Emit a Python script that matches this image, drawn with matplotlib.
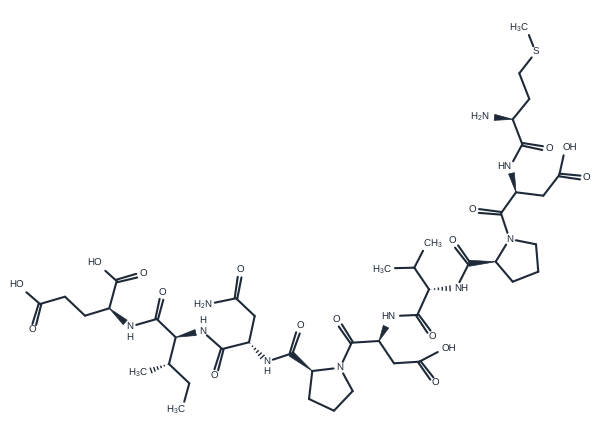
"""Peptide skeletal formula drawn as line art (coordinates in image pixels)."""

import matplotlib
matplotlib.use('Agg')
import matplotlib.pyplot as plt
import numpy as np

plt.rcParams['font.family'] = ['Liberation Sans', 'DejaVu Sans']
plt.rcParams['mathtext.fontset'] = 'custom'
plt.rcParams['mathtext.rm'] = 'Liberation Sans'
plt.rcParams['mathtext.default'] = 'rm'
plt.rcParams['text.hinting'] = 'no_hinting'

INK = '#1f2a38'
GAP = 6.5      # bond stops this far short of a labelled atom
DB_OFF = 1.9   # half spacing of double bonds
BOND_LW = 1.5

# atom positions
atom_names = [
    # Glu
    'e_c1', 'e_oh1', 'e_o1', 'e_ca', 'e_n', 'e_cb', 'e_cg', 'e_cd', 'e_oh2', 'e_o2',
    # Ile
    'i_c', 'i_o', 'i_ca', 'i_n', 'i_cb', 'i_me', 'i_cg', 'i_cd',
    # Asn
    'n_c', 'n_o', 'n_ca', 'n_cb', 'n_cg', 'n_od', 'n_nd', 'n_n',
    # Pro
    'p_c', 'p_o', 'p_ca', 'p_cb', 'p_cg', 'p_cd', 'p_n',
    # Asp ('d_nw' is the tip of the wedge, which points at the H of HN)
    'd_c', 'd_o', 'd_ca', 'd_n', 'd_nw', 'd_cb', 'd_cg', 'd_oh', 'd_od',
    # Val
    'v_c', 'v_o', 'v_ca', 'v_n', 'v_cb', 'v_me1', 'v_me2',
    # Pro 2
    'q_c', 'q_o', 'q_ca', 'q_cb', 'q_cg', 'q_cd', 'q_n',
    # Asp 2
    'a_c', 'a_o', 'a_ca', 'a_n', 'a_cb', 'a_cg', 'a_oh', 'a_od',
    # Met
    'm_c', 'm_o', 'm_ca', 'm_n', 'm_cb', 'm_cg', 'm_s', 'm_me',
]
atom_x = [
    116.7, 100.5, 143, 109.3, 130, 85, 65, 40, 21.5, 32.5,
    156.7, 163, 175.7, 202, 169, 145, 189.3, 182.5,
    222.3, 214.5, 249, 254.7, 236, 240.7, 208.5, 266.7,
    291, 300, 312.3, 309, 334, 352.7, 340,
    351.7, 336.7, 379, 393.5, 386, 394, 419.3, 443.5, 435.7,
    417.3, 432.7, 429, 456.5, 414.3, 388.5, 426,
    469, 452.7, 495.7, 512.7, 538.3, 536, 509.5,
    501, 472.5, 516, 510, 543.3, 559.3, 565, 586.7,
    522.3, 549, 512.7, 488, 529.3, 519.3, 535.7, 526.5,
]
atom_y = [
    281, 266.5, 274, 308.3, 326.7, 315.7, 296.7, 304, 288, 330.7,
    319, 293, 337.3, 331, 364, 372.7, 383.3, 408,
    349, 376, 342.3, 316, 298.3, 270.7, 304, 361.7,
    353.7, 326.7, 371, 399, 410.7, 391, 367.7,
    342.7, 320, 341, 316, 326.7, 363.3, 361.7, 349, 383.7,
    315, 337, 289.3, 288, 267.7, 268.3, 245,
    263.3, 241.3, 261.7, 281.7, 271.7, 244.3, 239,
    213.3, 210.3, 192.3, 167, 195.7, 175, 149, 178.3,
    144.3, 149.3, 119.3, 116.7, 99, 73.3, 52.3, 29,
]

single_bonds = [
    ('e_c1', 'e_oh1'), ('e_c1', 'e_ca'), ('e_ca', 'e_cb'), ('e_cb', 'e_cg'), ('e_cg', 'e_cd'),
    ('e_cd', 'e_oh2'), ('e_n', 'i_c'), ('i_c', 'i_ca'), ('i_ca', 'i_cb'), ('i_cb', 'i_cg'),
    ('i_cg', 'i_cd'), ('i_n', 'n_c'), ('n_c', 'n_ca'), ('n_ca', 'n_cb'), ('n_cb', 'n_cg'),
    ('n_cg', 'n_nd'), ('n_n', 'p_c'), ('p_ca', 'p_n'), ('p_ca', 'p_cb'), ('p_cb', 'p_cg'),
    ('p_cg', 'p_cd'), ('p_cd', 'p_n'), ('p_n', 'd_c'), ('d_c', 'd_ca'), ('d_ca', 'd_cb'),
    ('d_cb', 'd_cg'), ('d_cg', 'd_oh'), ('d_n', 'v_c'), ('v_c', 'v_ca'), ('v_ca', 'v_cb'),
    ('v_cb', 'v_me1'), ('v_cb', 'v_me2'), ('v_n', 'q_c'), ('q_ca', 'q_n'), ('q_ca', 'q_cb'),
    ('q_cb', 'q_cg'), ('q_cg', 'q_cd'), ('q_cd', 'q_n'), ('q_n', 'a_c'), ('a_c', 'a_ca'),
    ('a_ca', 'a_cb'), ('a_cb', 'a_cg'), ('a_cg', 'a_oh'), ('a_n', 'm_c'), ('m_c', 'm_ca'),
    ('m_ca', 'm_cb'), ('m_cb', 'm_cg'), ('m_cg', 'm_s'), ('m_s', 'm_me'),
]
double_bonds = [
    ('e_c1', 'e_o1'), ('e_cd', 'e_o2'), ('i_c', 'i_o'), ('n_c', 'n_o'), ('n_cg', 'n_od'),
    ('p_c', 'p_o'), ('d_c', 'd_o'), ('d_cg', 'd_od'), ('v_c', 'v_o'), ('q_c', 'q_o'),
    ('a_c', 'a_o'), ('a_cg', 'a_od'), ('m_c', 'm_o'),
]
# (narrow end, wide end)
wedge_bonds = [
    ('e_ca', 'e_n'), ('i_ca', 'i_n'), ('p_ca', 'p_c'), ('d_ca', 'd_nw'),
    ('q_ca', 'q_c'), ('a_ca', 'a_n'), ('m_ca', 'm_n'),
]
hash_bonds = [
    ('i_cb', 'i_me'), ('n_ca', 'n_n'), ('v_ca', 'v_n'),
]
labelled = {
    'e_oh1', 'e_o1', 'e_n', 'e_oh2', 'e_o2', 'i_o', 'i_n', 'i_me', 'i_cd', 'n_o', 'n_od', 'n_nd',
    'n_n', 'p_o', 'p_n', 'd_o', 'd_n', 'd_oh', 'd_od', 'v_o', 'v_n', 'v_me1', 'v_me2', 'q_o',
    'q_n', 'a_o', 'a_n', 'a_oh', 'a_od', 'm_o', 'm_n', 'm_s', 'm_me',
}

label_text = [
    'HO', 'O', 'N', 'H', 'HO', 'O', 'O', 'N', 'H', 'H$_3$C', 'H$_3$C', 'O', 'O', 'H$_2$N',
    'N', 'H', 'O', 'N', 'O', 'HN', 'OH', 'O', 'O', 'H$_3$C', 'CH$_3$', 'NH', 'O',
    'N', 'O', 'HN', 'OH', 'O', 'O', 'H$_2$N', 'S', 'H$_3$C',
]
label_x = [
    95, 143, 130, 130, 16.7, 32.7, 162.7, 202.3, 202.3, 137.7, 176, 214.7, 240.7, 202.7,
    266.7, 266.7, 300, 340, 336.7, 388, 449, 435.7, 432.7, 381.7, 432.7, 461, 452.7,
    510, 472.3, 504.3, 570, 586.7, 549, 480, 535.7, 519.3,
]
label_y = [
    263, 274, 326.7, 337.3, 285, 330.7, 293, 331, 320, 372.7, 410, 376, 270.7, 304.3,
    361.7, 371.7, 326.7, 367.7, 320, 316, 349, 383.7, 337, 269.3, 243.3, 288, 241.3,
    239, 210.3, 166.7, 148.3, 178.3, 149.3, 116.7, 52.3, 27.3,
]

pos = {n: np.array([x, y]) for n, x, y in zip(atom_names, atom_x, atom_y)}


def bond_ends(a, b):
    """Start/end of a bond, pulled back from labelled atoms."""
    p0, p1 = pos[a], pos[b]
    unit = (p1 - p0) / np.linalg.norm(p1 - p0)
    if a in labelled:
        p0 = p0 + unit * GAP
    if b in labelled:
        p1 = p1 - unit * GAP
    return p0, p1, np.array([-unit[1], unit[0]])


fig = plt.figure(figsize=(6.0, 4.41), dpi=100)
ax = fig.add_axes([0, 0, 1, 1])
ax.set_xlim(0, 600)
ax.set_ylim(441, 0)
ax.axis('off')

for a, b in single_bonds:
    p0, p1, _ = bond_ends(a, b)
    ax.plot([p0[0], p1[0]], [p0[1], p1[1]], color=INK, lw=BOND_LW, solid_capstyle='round')

for a, b in double_bonds:
    p0, p1, n = bond_ends(a, b)
    for side in (-1, 1):
        q0, q1 = p0 + side * n * DB_OFF * 0.7, p1 + side * n * DB_OFF
        ax.plot([q0[0], q1[0]], [q0[1], q1[1]], color=INK, lw=BOND_LW, solid_capstyle='round')

for a, b in wedge_bonds:
    p0, p1, n = bond_ends(a, b)
    ax.fill([p0[0], p1[0] + n[0] * 3.0, p1[0] - n[0] * 3.0],
            [p0[1], p1[1] + n[1] * 3.0, p1[1] - n[1] * 3.0], color=INK, lw=0.5)

for a, b in hash_bonds:
    p0, p1, n = bond_ends(a, b)
    for t in np.linspace(0.08, 1.0, 6):
        c = p0 + (p1 - p0) * t
        w = 3.0 * t
        ax.plot([c[0] - n[0] * w, c[0] + n[0] * w], [c[1] - n[1] * w, c[1] + n[1] * w],
                color=INK, lw=1.0, solid_capstyle='butt')

for txt, x, y in zip(label_text, label_x, label_y):
    ax.text(x, y, txt, color=INK, fontsize=7.0, ha='center', va='center')

fig.savefig('out.png', dpi=100, facecolor='white')
plt.close(fig)
